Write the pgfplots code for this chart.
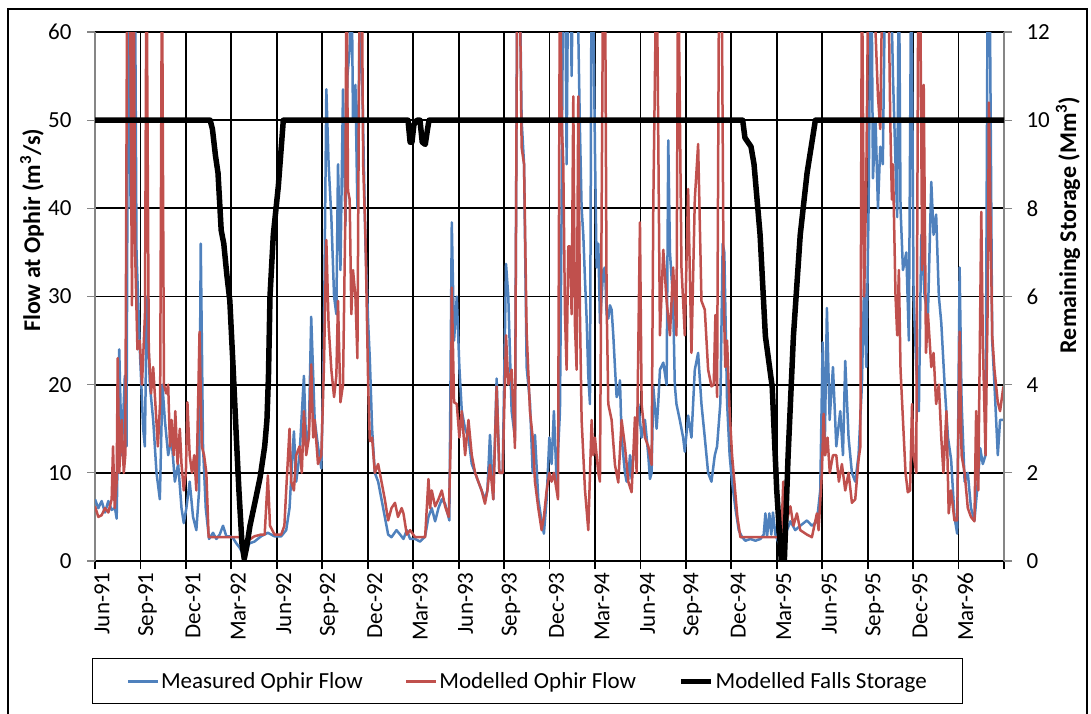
\documentclass[border=0pt]{standalone}
\usepackage{fontspec}
\setmainfont{Carlito}
\usepackage{pgfplots}
\pgfplotsset{compat=1.18}
\definecolor{measured}{HTML}{4F81BD}
\definecolor{modelled}{HTML}{C0504D}
\definecolor{axisgray}{HTML}{868686}

\begin{document}
\begin{tikzpicture}[x=1pt,y=1pt]
\path[use as bounding box] (0,0) rectangle (1091,713);
\draw[line width=2.5pt] (8,-10) -- (8,704) -- (1087,704) -- (1087,-10);

\begin{axis}[
  at={(95pt,152pt)}, anchor=south west,
  scale only axis, width=909pt, height=529pt,
  xmin=0, xmax=60, ymin=0, ymax=60,
  axis x line*=bottom, axis y line*=left,
  x axis line style={black, line width=1.8pt, -},
  y axis line style={axisgray, line width=1.8pt, -},
  xtick={0,3,...,60},
  xticklabels={Jun-91,Sep-91,Dec-91,Mar-92,Jun-92,Sep-92,Dec-92,Mar-93,Jun-93,Sep-93,Dec-93,Mar-94,Jun-94,Sep-94,Dec-94,Mar-95,Jun-95,Sep-95,Dec-95,Mar-96,{}},
  ytick={0,10,...,60},
  grid=major, major grid style={black, line width=1.8pt},
  tick align=outside, major tick length=8pt,
  xtick style={black, line width=1.8pt},
  ytick style={axisgray, line width=1.2pt},
  /pgf/number format/assume math mode=true,
  tick label style={font=\fontsize{23}{27}\selectfont},
  xticklabel style={rotate=90, anchor=east, yshift=-7pt},
  yticklabel style={xshift=-12pt},
  ylabel={Flow at Ophir (m\textsuperscript{3}/s)},
  ylabel style={font=\bfseries\fontsize{24}{28}\selectfont, at={(axis description cs:-0.0693,0.625)}, anchor=center},
  legend columns=3,
  legend style={at={(axis description cs:-0.0033,-0.1834)}, anchor=north west,
    draw=black, line width=1pt, font=\fontsize{23}{27}\selectfont,
    inner xsep=34pt, inner ysep=12pt,
    /tikz/every even column/.append style={column sep=40pt}},
  legend image code/.code={\draw[#1] (0pt,0pt) -- (30pt,0pt);},
]
\addplot[measured, line width=2.5pt, line join=round] coordinates {
(0,7.0) (0.22,6.0) (0.44,6.8) (0.66,5.5) (0.88,6.8) (1.1,5.8) (1.32,6.0) (1.43,4.8) (1.6,24) (1.76,12) (1.97,21) (2.08,13) (2.2,70) (2.35,40) (2.48,70) (2.63,70) (2.74,35) (2.96,24) (3.18,15) (3.29,13) (3.42,30) (3.62,20) (3.84,16) (4.06,10) (4.28,7) (4.45,20) (4.61,16) (4.83,12) (5.05,14) (5.27,9) (5.49,11) (5.71,6) (5.86,4.3) (6.03,6) (6.25,9) (6.47,5) (6.69,3.5) (6.87,8) (6.98,36) (7.13,13) (7.31,6) (7.53,2.5) (7.79,3.2) (8.01,2.5) (8.23,3.0) (8.45,4.0) (8.67,2.8) (8.89,2.8) (9.11,2.6) (9.33,2.0) (9.55,1.5) (9.77,0.8)
(9.95,1.0) (10.19,2.0) (10.52,2.2) (10.96,2.8) (11.41,3.2) (11.85,2.8) (12.29,2.8) (12.62,3.5) (12.84,6) (13.0,11) (13.13,14.7) (13.28,9) (13.5,12) (13.79,21) (13.94,13) (14.12,15) (14.27,27.7) (14.5,16) (14.72,13) (14.94,10.5) (15.11,25) (15.27,53.5) (15.42,45) (15.6,39) (15.78,30) (15.93,28) (16.04,45) (16.2,33) (16.37,53.5) (16.53,38) (16.66,55) (16.81,58) (16.92,70) (17.03,50) (17.19,54) (17.32,40) (17.48,62) (17.63,55) (17.85,36) (18.03,27) (18.14,22.9) (18.29,15) (18.47,10) (18.69,9) (18.91,7) (19.13,5) (19.35,3) (19.57,2.7) (19.9,3.5)
(20.14,3) (20.36,2.5) (20.58,3.5) (20.8,2.5) (21.13,2.5) (21.46,2.2) (21.79,2.8) (22.01,5) (22.23,6) (22.45,4.5) (22.67,6) (22.89,7) (23.11,6.5) (23.39,4.6) (23.55,38.4) (23.7,25) (23.88,30) (24.05,22) (24.21,17) (24.43,15) (24.65,14) (24.87,11) (25.09,10) (25.3,9) (25.52,8) (25.74,7) (25.9,8) (26.07,14.3) (26.29,7) (26.51,20.7) (26.69,10) (26.91,10) (27.13,33.7) (27.28,30) (27.5,17) (27.72,14) (27.88,70) (28.01,70) (28.16,50) (28.32,45) (28.49,22) (28.71,18) (28.89,10) (29.04,14.3) (29.26,7) (29.48,4.5) (29.63,3.1) (29.81,7) (29.99,14) (30.14,11) (30.29,17) (30.47,9)
(30.69,17) (30.8,40) (30.91,70) (31.02,70) (31.13,45) (31.24,70) (31.35,70) (31.46,55) (31.57,70) (31.68,70) (31.79,70) (31.9,60) (32.01,48.8) (32.12,40) (32.23,37) (32.34,32) (32.45,27.5) (32.56,21) (32.67,17.8) (32.78,70) (32.85,70) (33.0,46.5) (33.11,33.3) (33.22,36) (33.33,27) (33.44,30) (33.55,33) (33.66,33.3) (33.77,28) (33.88,27.5) (33.99,29) (34.1,28.5) (34.21,25.6) (34.32,22) (34.43,18.6) (34.54,19) (34.65,20.5) (34.76,14) (34.87,12) (34.98,10) (35.09,9) (35.2,9.3) (35.31,12) (35.42,9.3) (35.53,12) (35.64,12.5) (35.86,17.8) (36.08,14) (36.3,16) (36.52,12) (36.63,9.3) (36.74,10) (36.85,19.8) (37.07,15) (37.18,18) (37.29,21.7) (37.51,22.5) (37.73,20) (37.84,47.7) (37.95,35) (38.16,29.5) (38.27,20) (38.38,17.8) (38.6,16) (38.82,14) (38.93,12.4) (39.15,16.5) (39.37,14) (39.59,21.7) (39.81,23.6) (40.03,17.8) (40.25,14) (40.47,10) (40.69,9) (40.91,12)
(41.06,13) (41.28,18) (41.43,36) (41.54,35) (41.72,18) (41.89,12) (42.05,9) (42.27,6) (42.49,3.5) (42.71,2.7) (42.93,2.3) (43.26,2.5) (43.59,2.3) (43.92,2.5) (44.14,3.0) (44.25,5.4) (44.36,2.8) (44.51,5.4) (44.64,3) (44.75,5.5) (44.91,3) (45.13,2) (45.35,1.0) (45.57,3) (45.9,4.5) (46.22,3.5) (46.55,4) (46.99,4.6) (47.32,4.0) (47.65,4.5) (47.87,8) (48.03,24.8) (48.16,12) (48.31,28.7) (48.49,16) (48.71,22) (48.93,13) (49.19,17) (49.37,12) (49.52,22.7) (49.74,14) (49.96,10) (50.18,9) (50.4,12) (50.62,20) (50.77,31.8) (50.91,22) (51.06,40)
(51.13,54) (51.24,70) (51.35,43.4) (51.52,50) (51.68,40) (51.83,47) (52.0,45) (52.18,70) (52.34,70) (52.49,70) (52.67,55) (52.84,45) (52.95,39) (53.06,70) (53.17,40) (53.33,33) (53.55,35) (53.72,25) (53.88,70) (54.03,30) (54.21,22) (54.38,17) (54.54,37) (54.76,30) (54.98,28) (55.2,43) (55.35,37) (55.52,39.3) (55.7,30) (55.86,27) (56.08,20) (56.3,14) (56.51,11.5) (56.73,5) (56.91,3.1) (57.07,33.3) (57.2,18) (57.4,9) (57.61,10) (57.82,6) (58.05,4.6) (58.27,9) (58.43,12.8) (58.6,11) (58.78,12) (58.93,70) (59.04,70) (59.22,25) (59.37,20) (59.59,12) (59.74,16) (59.96,16)
};
\addlegendentry{Measured Ophir Flow}
\addplot[modelled, line width=2.5pt, line join=round] coordinates {
(0,6.2) (0.22,5.0) (0.44,5.2) (0.66,6.0) (0.88,5.5) (1.1,7.0) (1.19,13) (1.3,6) (1.43,9) (1.5,23) (1.6,10) (1.76,16) (1.9,10) (2.0,12) (2.13,70) (2.3,70) (2.44,29) (2.55,70) (2.65,35) (2.8,24) (2.96,25) (3.1,20) (3.3,28) (3.4,70) (3.55,24) (3.7,19) (3.84,22) (3.98,18) (4.15,13) (4.3,18) (4.42,70) (4.55,20) (4.7,19) (4.83,20) (4.95,13) (5.05,16) (5.2,12) (5.3,17) (5.45,11) (5.6,15) (5.71,11) (5.86,8) (6.0,10) (6.1,18) (6.25,12) (6.4,10) (6.55,12) (6.69,8) (6.9,26) (7.05,13) (7.2,12) (7.35,10) (7.5,2.7) (8.5,2.7) (9.6,2.7) (9.8,0.4)
(10.0,2.2) (10.52,2.8) (10.96,3.0) (11.2,3) (11.41,9.7) (11.55,4) (11.85,3) (12.29,3) (12.5,4) (12.62,8) (12.84,15) (12.95,9) (13.13,8) (13.28,12) (13.5,13) (13.65,10) (13.79,17) (13.94,12) (14.12,14) (14.27,22.3) (14.4,14) (14.5,16) (14.72,11) (14.94,12) (15.11,22) (15.27,36.4) (15.42,26.7) (15.6,21.7) (15.78,18.6) (15.93,21) (16.04,29.5) (16.2,18) (16.37,20) (16.53,40) (16.6,70) (16.7,42) (16.81,41) (16.92,28) (17.03,33) (17.19,30) (17.32,23) (17.48,70) (17.6,70) (17.7,45) (17.85,37) (18.03,20) (18.14,13.6) (18.29,14) (18.47,10) (18.69,11) (18.91,9) (19.13,7) (19.35,4.6) (19.57,6) (19.8,6.6) (20.0,5)
(20.24,6) (20.36,5.4) (20.58,3) (20.8,3.5) (21.13,2.7) (21.46,2.7) (21.79,2.7) (22.01,9.3) (22.12,6) (22.23,8) (22.45,6.2) (22.67,7) (22.89,8) (23.11,6.2) (23.35,5) (23.5,15) (23.55,31) (23.7,18) (23.88,17.8) (24.05,14) (24.21,17) (24.43,12) (24.65,16) (24.87,12) (25.09,10) (25.3,9) (25.52,8) (25.74,6.5) (25.9,8) (26.07,10.9) (26.29,7) (26.51,19.8) (26.69,10) (26.91,10) (27.13,25.6) (27.28,20) (27.5,21.7) (27.72,12.8) (27.88,70) (28.01,70) (28.16,46.9) (28.32,45) (28.49,26) (28.71,17) (28.89,14) (29.04,9) (29.26,6) (29.48,3.5) (29.63,5) (29.81,8) (29.99,10) (30.14,9) (30.29,10) (30.47,8)
(30.56,7) (30.69,70) (30.8,50) (30.91,45) (31.02,28) (31.13,21.7) (31.24,35.7) (31.35,35.7) (31.46,28) (31.57,52.7) (31.68,26.7) (31.79,21.7) (31.9,52.7) (32.01,28) (32.12,16) (32.34,8.1) (32.56,3.5) (32.78,16) (32.89,12) (33.0,14) (33.22,10) (33.33,9) (33.55,70) (33.66,70) (33.77,29.5) (33.88,17.8) (34.1,16) (34.32,10.9) (34.54,8.9) (34.76,16) (34.98,13) (35.2,9) (35.42,7.8) (35.64,16.3) (35.75,10) (35.97,38.4) (36.08,17.8) (36.3,14) (36.52,13) (36.74,10.9) (36.85,40.3) (37.07,70) (37.29,25.6) (37.51,35.3) (37.73,29.5) (37.95,25.6) (38.16,33.3) (38.38,25.6) (38.49,70) (38.71,33.3) (38.93,25.6) (39.15,42.2) (39.37,23.6) (39.59,41) (39.81,47.3) (40.03,29.5) (40.25,28.5) (40.47,21.7) (40.69,19.8)
(40.84,20) (40.95,27.9) (41.06,18.6) (41.2,70) (41.35,70) (41.5,30) (41.6,22) (41.72,25) (41.89,17) (42.05,12) (42.2,9) (42.4,5) (42.6,2.7) (45.3,2.7) (45.43,9) (45.57,4) (45.9,6.2) (46.1,4) (46.33,5.4) (46.55,3.5) (46.99,3) (47.32,2.7) (47.65,5.4) (47.76,3.5) (47.98,10) (48.09,16.7) (48.2,12) (48.35,14) (48.5,10) (48.71,12) (48.93,12) (49.1,9) (49.3,11) (49.52,8) (49.74,10) (49.96,6.6) (50.18,7) (50.4,11.5) (50.52,13) (50.62,70) (50.77,30) (50.91,43.4) (51.06,70)
(51.24,70) (51.35,70) (51.52,60) (51.68,52.7) (51.83,49) (52.0,70) (52.34,70) (52.49,50) (52.6,41) (52.67,45) (52.84,30) (52.95,25.6) (53.06,33) (53.17,21.7) (53.33,16) (53.5,10) (53.65,7.8) (53.8,8) (53.93,17.8) (54.03,12) (54.21,10) (54.35,70) (54.45,70) (54.6,33) (54.7,54) (54.85,23.6) (54.98,28) (55.2,22) (55.35,23.6) (55.52,17.8) (55.7,20) (55.86,14) (56.0,10) (56.2,17) (56.35,5.4) (56.5,8) (56.73,4.6) (56.91,4.6) (57.07,26) (57.2,12) (57.4,10) (57.61,6) (57.82,5) (58.05,4.5) (58.16,17) (58.3,8) (58.5,39.6) (58.6,25) (58.78,12) (58.93,30) (59.0,52) (59.1,40) (59.22,25.6) (59.37,21.7) (59.59,18) (59.74,17) (59.96,19.8)
};
\addlegendentry{Modelled Ophir Flow}
\addlegendimage{black, line width=5.5pt}
\addlegendentry{Modelled Falls Storage}
\end{axis}

\begin{axis}[
  at={(95pt,152pt)}, anchor=south west,
  scale only axis, width=909pt, height=529pt,
  xmin=0, xmax=60, ymin=0, ymax=12,
  axis x line=none, axis y line*=right,
  y axis line style={axisgray, line width=1.8pt, -},
  ytick={0,2,...,12},
  tick align=outside, major tick length=8pt,
  ytick style={axisgray, line width=1.2pt},
  /pgf/number format/assume math mode=true,
  tick label style={font=\fontsize{23}{27}\selectfont},
  yticklabel style={xshift=11pt},
  ylabel={Remaining Storage (Mm\textsuperscript{3})},
  ylabel style={font=\bfseries\fontsize{24}{28}\selectfont, at={(axis description cs:1.0704,0.635)}, anchor=center, rotate=0},
]
\addplot[black, line width=5.5pt, line join=round] coordinates {
(0,10) (7.6,10) (7.75,9.8) (7.95,9.2) (8.12,8.8) (8.33,7.5) (8.5,7.2) (8.7,6.5) (8.9,5.9) (9.1,4.5) (9.33,2.8) (9.5,1.6) (9.7,0.4) (9.85,0.05) (10.0,0.3) (10.23,0.8) (10.6,1.4) (10.9,1.9) (11.2,2.6) (11.35,3.2) (11.45,4.2) (11.55,6.0) (11.77,7.4) (12.1,8.5) (12.43,10)
(20.66,10) (20.8,9.5) (20.92,9.5) (21.05,9.9) (21.25,10) (21.45,10) (21.6,9.5) (21.8,9.45) (21.95,9.8) (22.05,10)
(42.75,10) (42.9,9.6) (43.1,9.5) (43.3,9.4) (43.5,9.0) (43.9,7.4) (44.25,5.1) (44.7,3.95) (45.0,1.6) (45.3,0) (45.5,0) (45.75,2.4) (46.1,5.1) (46.55,7.4) (47.0,8.8) (47.55,10) (60,10)
};
\end{axis}
\end{tikzpicture}
\end{document}
